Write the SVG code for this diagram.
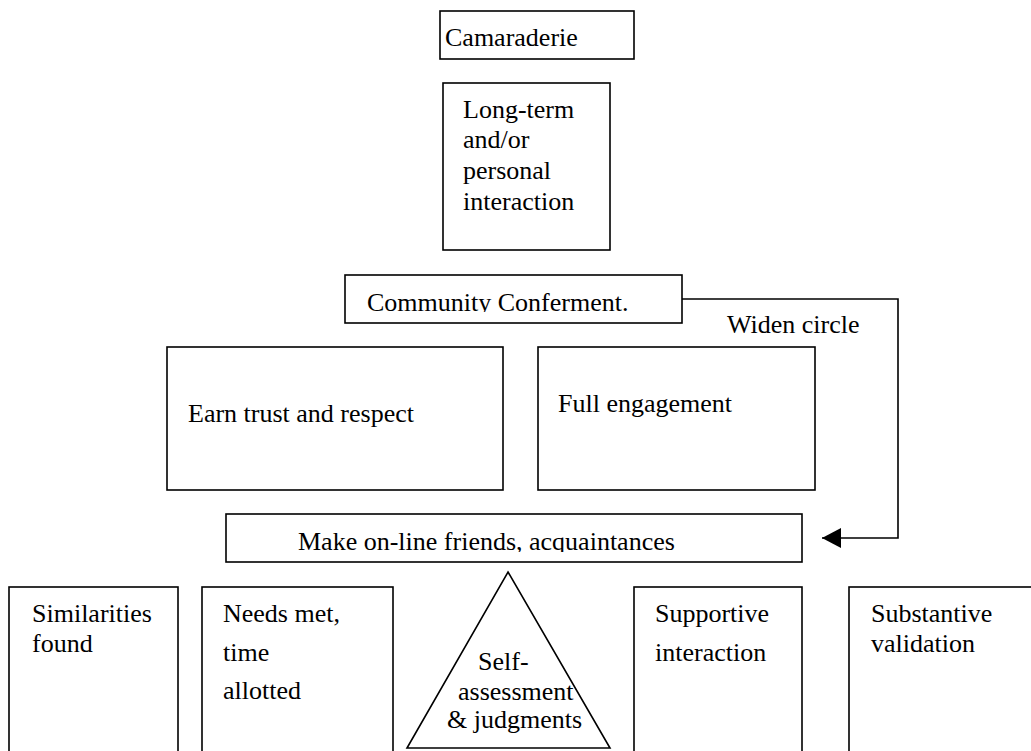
<svg xmlns="http://www.w3.org/2000/svg" width="1031" height="751" viewBox="0 0 1031 751">
<style>
.box{fill:#fff;stroke:#000;stroke-width:1.6}
.t{font-family:'Liberation Serif','Times New Roman',serif;font-size:26px;fill:#000}
.conn{fill:none;stroke:#000;stroke-width:1.6}
</style>
<defs>
<marker id="arr" markerWidth="20" markerHeight="20" refX="19" refY="10" orient="auto" markerUnits="userSpaceOnUse">
<path d="M0,0 L19,10 L0,20 Z" fill="#000"/>
</marker>
<clipPath id="clipComm"><rect x="345" y="275" width="337" height="37"/></clipPath>
<clipPath id="clipMake"><rect x="226" y="514" width="576" height="38"/></clipPath>
</defs>
<rect width="1031" height="751" fill="#fff"/>
<g id="connectors">
<path class="conn" d="M682,299 H898 V538 H822" marker-end="url(#arr)"/>
<text class="t" x="727" y="333">Widen circle</text>
</g>
<g id="camaraderie">
<rect class="box" x="440" y="11" width="194" height="48"/>
<text class="t" x="445" y="46">Camaraderie</text>
</g>
<g id="longterm">
<rect class="box" x="443" y="83" width="167" height="167"/>
<text class="t" x="463" y="118">Long-term</text>
<text class="t" x="463" y="148">and/or</text>
<text class="t" x="463" y="179">personal</text>
<text class="t" x="463" y="210">interaction</text>
</g>
<g id="community">
<rect class="box" x="345" y="275" width="337" height="48"/>
<text class="t" x="367" y="311" clip-path="url(#clipComm)">Community Conferment.</text>
</g>
<g id="earn">
<rect class="box" x="167" y="347" width="336" height="143"/>
<text class="t" x="188" y="422">Earn trust and respect</text>
</g>
<g id="full">
<rect class="box" x="538" y="347" width="277" height="143"/>
<text class="t" x="558" y="412">Full engagement</text>
</g>
<g id="make">
<rect class="box" x="226" y="514" width="576" height="48"/>
<text class="t" x="298" y="550" clip-path="url(#clipMake)">Make on-line friends, acquaintances</text>
</g>
<g id="similarities">
<rect class="box" x="9" y="587" width="169" height="180"/>
<text class="t" x="32" y="622">Similarities</text>
<text class="t" x="32" y="652">found</text>
</g>
<g id="needs">
<rect class="box" x="202" y="587" width="191" height="180"/>
<text class="t" x="223" y="622">Needs met,</text>
<text class="t" x="223" y="661">time</text>
<text class="t" x="223" y="699">allotted</text>
</g>
<g id="self">
<polygon class="box" points="508,572 610,748 407,748"/>
<text class="t" x="478" y="670">Self-</text>
<text class="t" x="458" y="700">assessment</text>
<text class="t" x="447" y="728">&amp; judgments</text>
</g>
<g id="supportive">
<rect class="box" x="634" y="587" width="168" height="180"/>
<text class="t" x="655" y="622">Supportive</text>
<text class="t" x="655" y="661">interaction</text>
</g>
<g id="substantive">
<rect class="box" x="849" y="587" width="200" height="180"/>
<text class="t" x="871" y="622">Substantive</text>
<text class="t" x="871" y="652">validation</text>
</g>
</svg>
